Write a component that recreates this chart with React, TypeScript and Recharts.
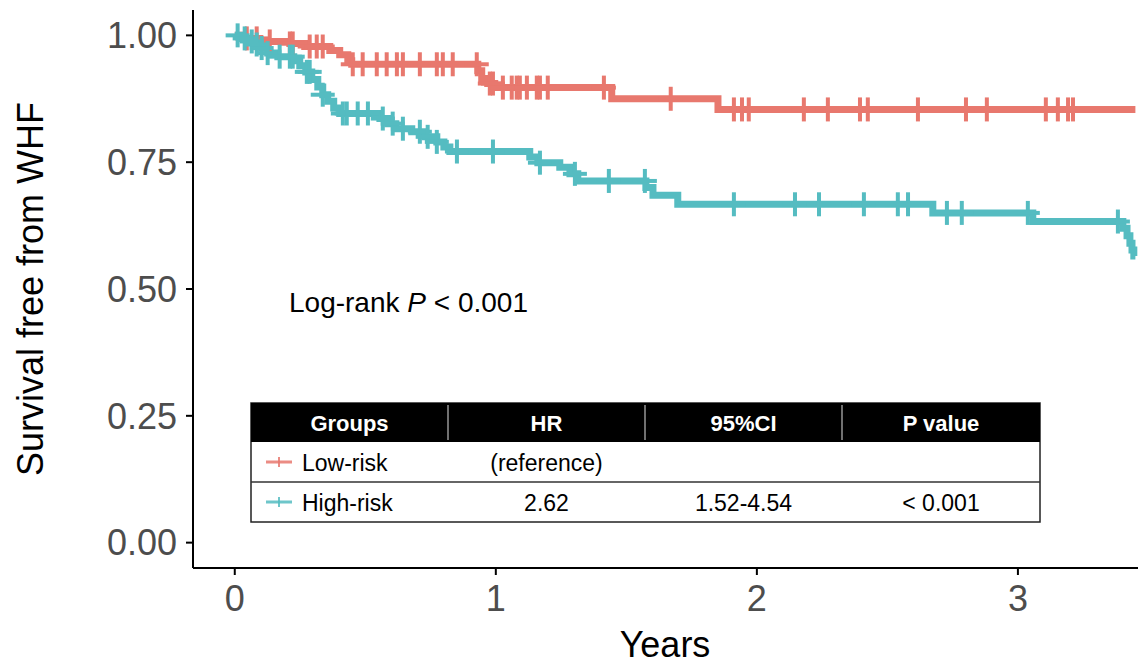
import React from "react";
import { ComposedChart, Line, Scatter, XAxis, YAxis } from "recharts";

const LOW_COLOR = "#E8786E";
const HIGH_COLOR = "#55BCC1";
const FONT = "'Liberation Sans', Arial, Helvetica, sans-serif";

// Kaplan-Meier steps (years, survival)
const lowTimes = [0, 0.038, 0.096, 0.211, 0.268, 0.364, 0.402, 0.433, 0.448, 0.931, 0.946, 0.969, 0.996, 1.444, 1.851, 3.45];
const lowSurv = [1, 0.994, 0.988, 0.984, 0.978, 0.97, 0.962, 0.95, 0.943, 0.93, 0.915, 0.905, 0.897, 0.875, 0.854, 0.854];
const lowCensor = [
  0.046, 0.084, 0.134, 0.211, 0.222, 0.287, 0.314, 0.337, 0.452, 0.49, 0.544, 0.582, 0.621, 0.644, 0.709,
  0.774, 0.797, 0.835, 0.927, 0.977, 0.989, 1.027, 1.061, 1.08, 1.092, 1.119, 1.157, 1.169, 1.199, 1.414,
  1.67, 1.912, 1.943, 1.969, 2.18, 2.272, 2.395, 2.425, 2.617, 2.801, 2.881, 3.107, 3.153, 3.192, 3.211,
];

const highTimes = [
  0, 0.019, 0.05, 0.077, 0.103, 0.126, 0.165, 0.226, 0.249, 0.272, 0.295, 0.318, 0.337, 0.356, 0.379, 0.402,
  0.556, 0.586, 0.617, 0.678, 0.728, 0.774, 0.801, 0.824, 1.13, 1.161, 1.245, 1.284, 1.314, 1.575, 1.602,
  1.697, 2.674, 3.057, 3.402, 3.418, 3.429, 3.437, 3.444, 3.45,
];
const highSurv = [
  1, 0.994, 0.988, 0.982, 0.975, 0.965, 0.958, 0.95, 0.94, 0.928, 0.913, 0.898, 0.883, 0.87, 0.857, 0.846,
  0.836, 0.826, 0.816, 0.81, 0.8, 0.79, 0.78, 0.771, 0.76, 0.749, 0.74, 0.727, 0.713, 0.7, 0.685,
  0.667, 0.65, 0.633, 0.62, 0.605, 0.59, 0.577, 0.565, 0.565,
];
const highCensor = [
  0.011, 0.038, 0.065, 0.084, 0.103, 0.126, 0.172, 0.211, 0.222, 0.276, 0.287, 0.337, 0.414, 0.429, 0.471,
  0.51, 0.567, 0.605, 0.644, 0.709, 0.739, 0.774, 0.851, 0.989, 1.169, 1.303, 1.433, 1.571, 1.912, 2.146,
  2.238, 2.41, 2.54, 2.579, 2.728, 2.785, 3.038, 3.383,
];

const xTicks = [0, 1, 2, 3];
const yTicks = [0, 0.25, 0.5, 0.75, 1];

const tableHeader = ["Groups", "HR", "95%CI", "P value"];
const tableRows = [
  { group: "Low-risk", hr: "(reference)", ci: "", p: "", color: LOW_COLOR },
  { group: "High-risk", hr: "2.62", ci: "1.52-4.54", p: "< 0.001", color: HIGH_COLOR },
];

const toSteps = (times: number[], surv: number[]) => times.map((t, i) => ({ t, s: surv[i] }));

// survival value at a censoring time = last step at or before it
const toCensor = (cens: number[], times: number[], surv: number[]) =>
  cens.map((t) => {
    let s = surv[0];
    for (let i = 0; i < times.length; i++) if (times[i] <= t) s = surv[i];
    return { t, s };
  });

const lowSteps = toSteps(lowTimes, lowSurv);
const highSteps = toSteps(highTimes, highSurv);
const lowMarks = toCensor(lowCensor, lowTimes, lowSurv);
const highMarks = toCensor(highCensor, highTimes, highSurv);

const Plus = (props: any) => {
  const { cx, cy, fill } = props;
  if (cx == null || cy == null) return null;
  return (
    <g>
      <rect x={cx - 2} y={cy - 12} width={4} height={24} fill={fill} />
      <rect x={cx - 12} y={cy - 2} width={24} height={4} fill={fill} />
    </g>
  );
};

const YTitle = () => (
  <text
    x={30}
    y={289}
    transform="rotate(-90 30 289)"
    textAnchor="middle"
    dominantBaseline="central"
    fontSize={36}
    fontFamily={FONT}
    fill="#000"
  >
    Survival free from WHF
  </text>
);

const XTitle = () => (
  <text x={665} y={657} textAnchor="middle" fontSize={36} fontFamily={FONT} fill="#000">
    Years
  </text>
);

const colX = [251, 448, 645, 842, 1040];
const colMid = (i: number) => (colX[i] + colX[i + 1]) / 2;

export default function App() {
  const tick = { fontSize: 36, fill: "#4D4D4D", fontFamily: FONT };
  const axisLine = { stroke: "#000", strokeWidth: 2 };

  return (
    <div style={{ position: "absolute", left: 0, top: 0, width: 1140, height: 668, background: "#fff" }}>
      <ComposedChart width={1140} height={668} margin={{ top: 10, right: 2, bottom: 0, left: 0 }}>
        <XAxis
          dataKey="t"
          type="number"
          domain={[-0.16, 3.46]}
          ticks={xTicks}
          allowDataOverflow
          height={100}
          tick={tick}
          tickSize={7}
          tickMargin={10}
          axisLine={axisLine}
          tickLine={axisLine}
          label={<XTitle />}
        />
        <YAxis
          type="number"
          domain={[-0.05, 1.05]}
          ticks={yTicks}
          allowDataOverflow
          width={193}
          tick={tick}
          tickFormatter={(v: number) => v.toFixed(2)}
          tickSize={7}
          tickMargin={9}
          axisLine={axisLine}
          tickLine={axisLine}
          label={<YTitle />}
        />
        <Line
          data={lowSteps}
          dataKey="s"
          type="stepAfter"
          stroke={LOW_COLOR}
          strokeWidth={7}
          dot={false}
          activeDot={false}
          isAnimationActive={false}
        />
        <Scatter data={lowMarks} dataKey="s" fill={LOW_COLOR} shape={<Plus />} isAnimationActive={false} />
        <Line
          data={highSteps}
          dataKey="s"
          type="stepAfter"
          stroke={HIGH_COLOR}
          strokeWidth={7}
          dot={false}
          activeDot={false}
          isAnimationActive={false}
        />
        <Scatter data={highMarks} dataKey="s" fill={HIGH_COLOR} shape={<Plus />} isAnimationActive={false} />
      </ComposedChart>

      <svg
        width={1140}
        height={668}
        style={{ position: "absolute", left: 0, top: 0, pointerEvents: "none" }}
        fontFamily={FONT}
      >
        <text x={289} y={312} fontSize={28} fill="#000">
          Log-rank <tspan fontStyle="italic">P</tspan> {"< 0.001"}
        </text>

        <rect x={251} y={403} width={789} height={119} fill="#fff" stroke="#222" strokeWidth={1.5} />
        <rect x={251} y={403} width={789} height={39} fill="#000" />
        {[1, 2, 3].map((i) => (
          <line key={i} x1={colX[i]} x2={colX[i]} y1={405} y2={440} stroke="#e0e0e0" strokeWidth={1} />
        ))}
        {tableHeader.map((h, i) => (
          <text key={h} x={colMid(i)} y={431} textAnchor="middle" fontSize={22} fontWeight="bold" fill="#fff">
            {h}
          </text>
        ))}
        <line x1={251} x2={1040} y1={482} y2={482} stroke="#333" strokeWidth={1.5} />
        {tableRows.map((r, k) => {
          const cy = 462 + k * 40;
          const base = cy + 9;
          return (
            <g key={r.group}>
              <rect x={266} y={cy - 1.5} width={26} height={3} fill={r.color} opacity={0.85} />
              <rect x={278} y={cy - 5} width={2} height={10} fill={r.color} opacity={0.85} />
              <text x={302} y={base} fontSize={23} fill="#000">
                {r.group}
              </text>
              <text x={colMid(1)} y={base} textAnchor="middle" fontSize={23} fill="#000">
                {r.hr}
              </text>
              <text x={colMid(2)} y={base} textAnchor="middle" fontSize={23} fill="#000">
                {r.ci}
              </text>
              <text x={colMid(3)} y={base} textAnchor="middle" fontSize={23} fill="#000">
                {r.p}
              </text>
            </g>
          );
        })}
      </svg>
    </div>
  );
}
